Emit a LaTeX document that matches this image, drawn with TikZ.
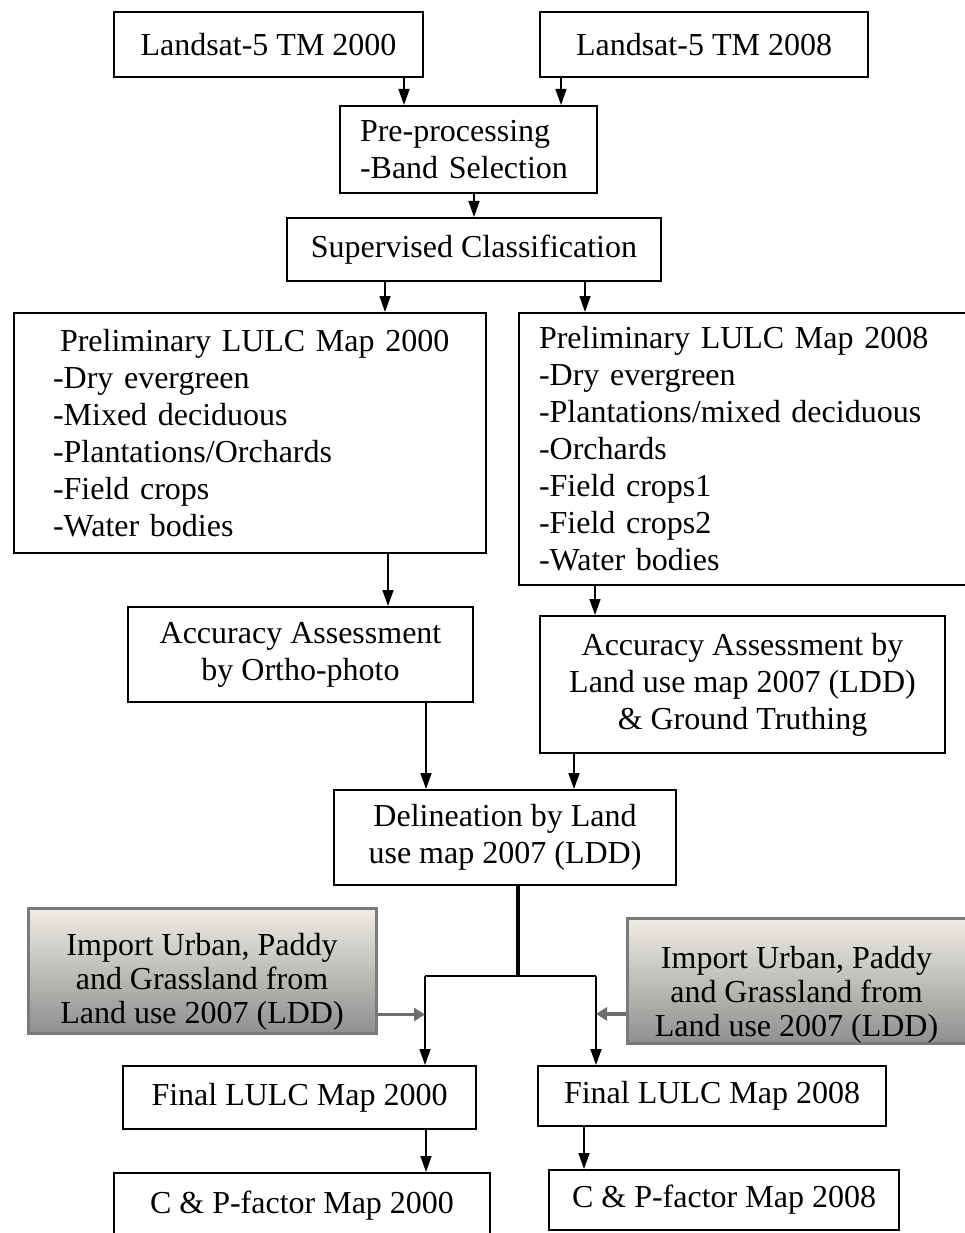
\documentclass[tikz,border=0pt]{standalone}
\usepackage{fontspec}
\setmainfont{Liberation Serif}
\usepackage{tikz}
\usetikzlibrary{arrows.meta}
\definecolor{shadetop}{HTML}{EFEDE4}
\definecolor{shadebot}{HTML}{8F8F8F}
\definecolor{grayline}{HTML}{7A7A7A}
\definecolor{grayarrow}{HTML}{6E6E6E}
\tikzset{
  blk/.style 2 args={draw, line width=2pt, minimum width=#1pt, minimum height=#2pt,
    inner sep=0pt, align=center, font=\fontsize{32}{37}\selectfont},
  lst/.style 2 args={draw, line width=2pt, text width=#1pt, minimum height=#2pt,
    inner ysep=0pt, align=left, font=\fontsize{32}{37}\selectfont},
  imp/.style 2 args={draw=grayline, line width=3pt, top color=shadetop, bottom color=shadebot,
    minimum width=#1pt, minimum height=#2pt, inner sep=0pt, align=center,
    text height=112pt, font=\fontsize{32}{34}\selectfont},
  arr/.style={line width=1.5pt, -{Triangle[length=16pt,width=11pt]}},
  garr/.style={grayarrow, line width=3.5pt, -{Triangle[length=11pt,width=13pt]}}
}

\begin{document}
\begin{tikzpicture}[x=1pt, y=-1pt]
\useasboundingbox (0,0) rectangle (964,1233);
% inputs and classification
\node[blk={309}{65}] (sat00) at (268.5,44.5) {Landsat-5 TM 2000};
\node[blk={328}{65}] (sat08) at (704,44.5) {Landsat-5 TM 2008};
\node[lst={217}{87}, inner xsep=20pt] (prep) at (468.5,149.5) {Pre-processing\\-Band Selection};
\node[blk={374}{63}] (sup) at (474,249.5) {Supervised Classification};
% preliminary maps
\node[lst={394}{240}, inner xsep=39pt] (pre00) at (250,433)
  {\mbox{\hspace*{7pt}Preliminary LULC Map 2000}\\-Dry evergreen\\-Mixed deciduous\\-Plantations/Orchards\\-Field crops\\-Water bodies};
\node[lst={407}{272}, inner xsep=20pt] (pre08) at (742.5,449)
  {\mbox{Preliminary LULC Map 2008}\\-Dry evergreen\\-Plantations/mixed deciduous\\-Orchards\\-Field crops1\\-Field crops2\\-Water bodies};
% accuracy
\node[blk={345}{95}] (acc00) at (300.5,654.5) {Accuracy Assessment\\by Ortho-photo};
\node[blk={405}{137}] (acc08) at (742.5,684.5) {Accuracy Assessment by\\Land use map 2007 (LDD)\\\& Ground Truthing};
\node[blk={342}{95}] (del) at (505,837.5) {Delineation by Land\\use map 2007 (LDD)};
% imports
\node[imp={348}{125}] (imp00) at (202,970.5) {Import Urban, Paddy\\and Grassland from\\Land use 2007 (LDD)};
\node[imp={339}{124}, text height=118pt] (imp08) at (796.5,981) {Import Urban, Paddy\\and Grassland from\\Land use 2007 (LDD)};
% final maps
\node[blk={353}{63}] (fin00) at (299.5,1097.5) {Final LULC Map 2000};
\node[blk={348}{60}] (fin08) at (712,1096) {Final LULC Map 2008};
\node[blk={376}{66}] (cp00) at (302,1206) {C \& P-factor Map 2000};
\node[blk={350}{60}] (cp08) at (724,1200) {C \& P-factor Map 2008};
\coordinate (jl) at (425,976);
\coordinate (jr) at (596,976);

\draw[arr] (sat00.south east) ++(-20,0) coordinate (a1) -- (a1 |- prep.north);
\draw[arr] (sat08.south west) ++(22,0) coordinate (a2) -- (a2 |- prep.north);
\draw[arr] (sup.north |- prep.south) -- (sup.north);
\draw[arr] (sup.south west) ++(99,0) coordinate (a3) -- (a3 |- pre00.north);
\draw[arr] (sup.south east) ++(-77,0) coordinate (a4) -- (a4 |- pre08.north);
\draw[arr] (pre00.south east) ++(-99,0) coordinate (a5) -- (a5 |- acc00.north);
\draw[arr] (pre08.south west) ++(77,0) coordinate (a6) -- (a6 |- acc08.north);
\draw[arr] (acc00.south east) ++(-48,0) coordinate (a7) -- (a7 |- del.north);
\draw[arr] (acc08.south west) ++(35,0) coordinate (a8) -- (a8 |- del.north);
\draw[line width=3.5pt] (del.south) ++(13,0) coordinate (d) -- (d |- jl);
\draw[line width=1.8pt] (jl) -- (jr);
\draw[arr] (jl) -- (jl |- fin00.north);
\draw[arr] (jr) -- (jr |- fin08.north);
\draw[garr] (imp00.south east) ++(0,-20) coordinate (g1) -- (g1 -| jl);
\draw[garr] (imp08.south west) ++(0,-31) coordinate (g2) -- (g2 -| jr);
\draw[arr] (fin00.south east) ++(-51,0) coordinate (a9) -- (a9 |- cp00.north);
\draw[arr] (fin08.south west) ++(47,0) coordinate (a10) -- (a10 |- cp08.north);
\end{tikzpicture}
\end{document}
